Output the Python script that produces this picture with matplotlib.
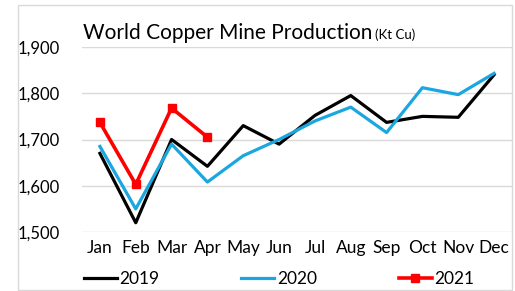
import matplotlib
matplotlib.use("Agg")
from matplotlib import pyplot as plt
from matplotlib.patches import Rectangle

months = ['Jan', 'Feb', 'Mar', 'Apr', 'May', 'Jun', 'Jul', 'Aug', 'Sep', 'Oct', 'Nov', 'Dec']
prod_2019 = [1670, 1520, 1700, 1642, 1730, 1690, 1752, 1795, 1737, 1750, 1748, 1840]
prod_2020 = [1685, 1550, 1690, 1608, 1665, 1700, 1740, 1770, 1715, 1812, 1797, 1843]
prod_2021 = [1737, 1603, 1768, 1705]
yticks = [1500, 1600, 1700, 1800, 1900]

plt.rcParams['font.family'] = ['Lato', 'DejaVu Sans']

fig = plt.figure(figsize=(5.15, 2.91), dpi=100)
ax = fig.add_axes([82 / 515, 1 - 232 / 291, 430 / 515, 185 / 291])

x = range(len(months))
ax.plot(x, prod_2019, color='black', lw=2.3, label='2019')
ax.plot(x, prod_2020, color='#1aa7e0', lw=2.3, label='2020')
ax.plot(range(len(prod_2021)), prod_2021, color='#ff0000', lw=2.6,
        marker='s', markersize=6, label='2021')

ax.set_xlim(-0.5, 11.5)
ax.set_ylim(1500, 1900)
ax.set_yticks(yticks)
ax.set_yticklabels([f'{v:,}' for v in yticks], fontsize=12)
ax.set_xticks(list(x))
ax.set_xticklabels(months, fontsize=12.5)
ax.tick_params(length=0, pad=6)
ax.tick_params(axis='y', pad=16)
ax.grid(axis='y', color='#d9d9d9', lw=1)
ax.set_axisbelow(True)
for s in ax.spines.values():
    s.set_visible(False)

fig.text(83 / 515, 1 - 33 / 291, 'World Copper Mine Production', fontsize=15,
         va='center', ha='left')
fig.text(375 / 515, 1 - 35 / 291, '(Kt Cu)', fontsize=9.5, va='center', ha='left')

leg = fig.legend(loc='center', bbox_to_anchor=(0.542, 1 - 279 / 291), ncol=3,
                 frameon=False, fontsize=12.5, handlelength=1.9, handletextpad=0.15,
                 columnspacing=4.7)

fig.patches.append(Rectangle((18 / 515, 1 / 291), 494 / 515, 285 / 291,
                             transform=fig.transFigure, fill=False,
                             edgecolor='#d9d9d9', lw=1))

fig.savefig('out.png', dpi=100)
